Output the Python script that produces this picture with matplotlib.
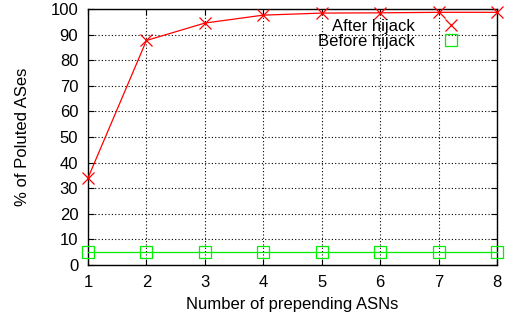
import matplotlib
matplotlib.use('Agg')
from matplotlib import pyplot as plt
from matplotlib.lines import Line2D

plt.rcParams['font.family'] = ['Liberation Sans', 'DejaVu Sans']
plt.rcParams['font.size'] = 12

n_prepend = [1, 2, 3, 4, 5, 6, 7, 8]
after_hijack = [34.0, 87.7, 94.5, 97.6, 98.4, 98.5, 98.7, 98.7]
before_hijack = [5.0, 5.0, 5.0, 5.0, 5.0, 5.0, 5.0, 5.0]
yticks = list(range(0, 101, 10))

red = '#ff0000'
green = '#00ee00'

fig = plt.figure(figsize=(5.09, 3.21), dpi=100)
ax = fig.add_axes([0.1729, 0.1745, 0.8035, 0.7975])

ax.plot(n_prepend, after_hijack, color=red, lw=0.9, marker='x', ms=9, mew=0.9, clip_on=False, zorder=3)
ax.plot(n_prepend, before_hijack, color=green, lw=0.9, marker='s', ms=9, mew=0.9, mfc='none',
        clip_on=False, zorder=3)

ax.set_xlim(1, 8)
ax.set_ylim(0, 100)
ax.set_xticks(n_prepend)
ax.set_yticks(yticks)
ax.grid(True, color='black', linestyle=(0, (1, 2)), lw=0.8)
ax.tick_params(direction='in', top=True, right=True, length=4, width=0.8, pad=7)
for s in ax.spines.values():
    s.set_linewidth(1.0)

ax.set_xlabel('Number of prepending ASNs', labelpad=5)
ax.set_ylabel('% of Poluted ASes', labelpad=15)

handles = [Line2D([], [], ls='none', marker='x', color=red, ms=9, mew=0.9),
           Line2D([], [], ls='none', marker='s', color=green, ms=9, mew=0.9, mfc='none')]
ax.legend(handles, ['After hijack', 'Before hijack'], markerfirst=False, frameon=False,
          loc='upper right', bbox_to_anchor=(0.952, 1.0), handlelength=2.0, handletextpad=1.15,
          labelspacing=0.0, borderaxespad=0.3, borderpad=0.3)

fig.savefig('out.png', dpi=100)
